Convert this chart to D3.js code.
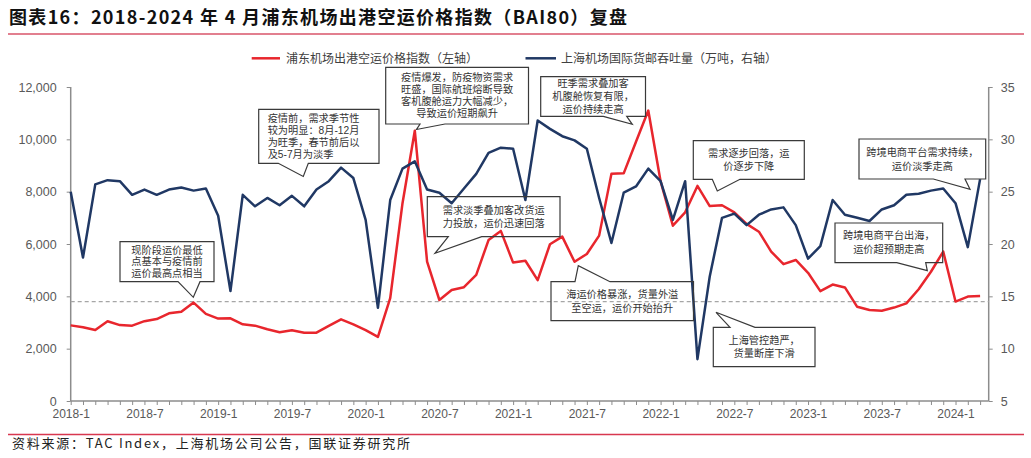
<!DOCTYPE html>
<html><head><meta charset="utf-8">
<script src="https://cdn.jsdelivr.net/npm/d3@7"></script>
<style>body{margin:0;background:#fff}svg{display:block}</style>
</head><body>
<svg id="c" width="1031" height="458"></svg>
<script>
// ---------- data ----------
const months = [
 "2018-1","2018-2","2018-3","2018-4","2018-5","2018-6","2018-7","2018-8","2018-9","2018-10","2018-11","2018-12",
 "2019-1","2019-2","2019-3","2019-4","2019-5","2019-6","2019-7","2019-8","2019-9","2019-10","2019-11","2019-12",
 "2020-1","2020-2","2020-3","2020-4","2020-5","2020-6","2020-7","2020-8","2020-9","2020-10","2020-11","2020-12",
 "2021-1","2021-2","2021-3","2021-4","2021-5","2021-6","2021-7","2021-8","2021-9","2021-10","2021-11","2021-12",
 "2022-1","2022-2","2022-3","2022-4","2022-5","2022-6","2022-7","2022-8","2022-9","2022-10","2022-11","2022-12",
 "2023-1","2023-2","2023-3","2023-4","2023-5","2023-6","2023-7","2023-8","2023-9","2023-10","2023-11","2023-12",
 "2024-1","2024-2","2024-3"];
// 浦东机场出港空运价格指数 (BAI80), left axis
const baiIndex = [
 2890,2820,2710,3050,2900,2880,3050,3130,3350,3410,3760,3330,
 3150,3160,2930,2880,2740,2630,2700,2610,2610,2870,3120,2930,
 2710,2450,3930,7560,10330,5330,3860,4240,4350,4820,6150,6500,
 5290,5360,4620,5990,6280,5320,5620,6320,8680,8700,9910,11100,
 8400,6700,7210,8220,7450,7480,7210,6770,6470,5710,5230,5390,
 4900,4200,4450,4340,3600,3480,3450,3570,3730,4270,4940,5710,
 3800,3990,4010];
// 上海机场国际货邮吞吐量 (万吨), right axis
const pvgCargo = [
 25.0,18.7,25.7,26.1,26.0,24.7,25.2,24.7,25.2,25.4,25.1,25.3,
 22.7,15.5,24.7,23.6,24.4,23.7,24.6,23.6,25.2,26.0,27.3,26.3,
 22.3,13.9,24.2,27.2,27.9,25.2,24.9,23.9,25.3,26.7,28.7,29.2,
 29.1,24.2,31.8,31.0,30.3,29.9,29.1,24.4,20.1,24.9,25.5,27.2,
 26.0,22.3,26.0,9.0,16.9,22.5,22.9,21.8,22.8,23.3,23.5,21.8,
 18.6,19.8,24.2,22.8,22.5,22.2,23.3,23.7,24.7,24.8,25.1,25.3,
 23.9,19.7,26.2];
const leftTicks = [0,2000,4000,6000,8000,10000,12000];
const rightTicks = [5,10,15,20,25,30,35];
const xTickLabels = ["2018-1","2018-7","2019-1","2019-7","2020-1","2020-7","2021-1","2021-7","2022-1","2022-7","2023-1","2023-7","2024-1"];
const refLevel = 3800;
const seriesNames = ["浦东机场出港空运价格指数（左轴）","上海机场国际货邮吞吐量（万吨，右轴）"];
const titleText = "图表16：2018-2024 年 4 月浦东机场出港空运价格指数（BAI80）复盘";
const sourceText = "资料来源：TAC Index，上海机场公司公告，国联证券研究所";

// callout annotations (text + layout)
const notes = [
 {lines:["现阶段运价最低","点基本与疫情前","运价最高点相当"], box:[120,241.7,214,281.7], edge:"bottom", base:[178,200], tip:[193.3,297.3], lh:11.6},
 {lines:["疫情前，需求季节性","较为明显：8月-12月","为旺季，春节前后以","及5-7月为淡季"], box:[258.7,109.3,379,163.3], edge:"bottom", base:[278.3,308.3], tip:[303.3,176.5], lh:12, align:"left"},
 {lines:["疫情爆发，防疫物资需求","旺盛，国际航班熔断导致","客机腹舱运力大幅减少，","导致运价短期飙升"], box:[385.7,67.3,528.5,124], edge:"bottom", base:[420,445], tip:[416.5,129.5], lh:12},
 {lines:["需求淡季叠加客改货运","力投放，运价迅速回落"], box:[427.3,196.7,560,236.7], edge:"bottom", base:[448.3,481.7], tip:[435,253.3], lh:13.3},
 {lines:["旺季需求叠加客","机腹舱恢复有限，","运价持续走高"], box:[540.7,76.7,645.5,116.3], edge:"bottom", base:[603.3,626.7], tip:[632.3,124.3], lh:12.8},
 {lines:["需求逐步回落，运","价逐步下降"], box:[693.3,140.7,804.3,179.3], edge:"bottom", base:[712.3,740], tip:[717.3,191], lh:12.5},
 {lines:["海运价格暴涨，货量外溢","至空运，运价开始抬升"], box:[551,281.7,693.5,320.7], edge:"top", base:[575,610], tip:[578.3,265.7], lh:14},
 {lines:["上海管控趋严，","货量断崖下滑"], box:[713.3,327.3,815,366.7], edge:"top", base:[730,755], tip:[716,312.3], lh:13.5},
 {lines:["跨境电商平台出海，","运价超预期走高"], box:[835,223,942.7,262.7], edge:"bottom", base:[896.7,925.7], tip:[927.3,270.7], lh:14},
 {lines:["跨境电商平台需求持续，","运价淡季走高"], box:[859,139,985.7,179], edge:"bottom", base:[933.3,965], tip:[970,189.3], lh:14}
];

// ---------- drawing ----------
const svg = d3.select("#c");
const CJK = "'Noto Sans CJK SC','Noto Sans',sans-serif";
const NOTE = "'Liberation Sans','Noto Sans CJK SC',sans-serif";
const LAT = "'Liberation Sans',Arial,sans-serif";
const RED = "#e8262d", BLUE = "#203864", AX = "#8c8c8c", TXT = "#595959";

const x = d3.scaleLinear().domain([0, 74.7]).range([70.7, 988.7]);
const yL = d3.scaleLinear().domain([0, 12000]).range([401, 87]);
const yR = d3.scaleLinear().domain([5, 35]).range([401, 87]);

// title
svg.append("text").attr("x", 9).attr("y", 24).attr("font-family", CJK).attr("font-weight", "bold")
  .attr("font-size", 18).attr("fill", "#111").attr("textLength", 618).attr("lengthAdjust", "spacing").text(titleText);
svg.append("line").attr("x1", 8).attr("x2", 1024).attr("y1", 34).attr("y2", 34).attr("stroke", "#d9546a").attr("stroke-width", 1.5);

// footer
svg.append("line").attr("x1", 8).attr("x2", 1024).attr("y1", 434.5).attr("y2", 434.5).attr("stroke", "#d8374f").attr("stroke-width", 1.5);
svg.append("text").attr("x", 12).attr("y", 448).attr("font-family", CJK).attr("font-size", 13)
  .attr("fill", "#222").attr("textLength", 398).attr("lengthAdjust", "spacing").text(sourceText);

// legend
const lg = svg.append("g").attr("font-family", CJK).attr("font-size", 12).attr("fill", "#404040");
lg.append("line").attr("x1", 251.7).attr("x2", 280).attr("y1", 58.3).attr("y2", 58.3).attr("stroke", RED).attr("stroke-width", 2.5);
lg.append("text").attr("x", 286).attr("y", 58.3).attr("dy", "0.35em").text(seriesNames[0]);
lg.append("line").attr("x1", 525.5).attr("x2", 556).attr("y1", 58.3).attr("y2", 58.3).attr("stroke", BLUE).attr("stroke-width", 2.5);
lg.append("text").attr("x", 561).attr("y", 58.3).attr("dy", "0.35em").text(seriesNames[1]);

// left axis
const gL = svg.append("g").attr("transform", `translate(${x(0)},0)`)
  .call(d3.axisLeft(yL).tickValues(leftTicks).tickSize(4).tickPadding(10).tickFormat(d3.format(",")));
// right axis
const gR = svg.append("g").attr("transform", `translate(${x.range()[1]},0)`)
  .call(d3.axisRight(yR).tickValues(rightTicks).tickSize(4).tickPadding(8));
// bottom axis
const gB = svg.append("g").attr("transform", `translate(0,${yL(0)})`)
  .call(d3.axisBottom(x).tickValues(d3.range(months.length)).tickSize(4).tickPadding(4)
    .tickFormat((d) => xTickLabels.includes(months[d]) ? months[d] : ""));
[gL, gR, gB].forEach(g => {
  g.select(".domain").attr("stroke", AX).attr("stroke-width", 1.5);
  g.selectAll(".tick line").attr("stroke", AX).attr("stroke-width", 1);
  g.selectAll("text").attr("fill", TXT).attr("font-family", LAT).attr("font-size", 12.5);
});
gB.select(".domain").attr("d", `M${x.range()[0]},0H${x.range()[1]}`);
gL.select(".domain").attr("d", `M0,${yL.range()[1]}V${yL.range()[0]}`);
gR.select(".domain").attr("d", `M0,${yR.range()[1]}V${yR.range()[0]}`);
gB.selectAll("text").attr("font-size", 12);

// reference dashed line
svg.append("line").attr("x1", x.range()[0]).attr("x2", x.range()[1]).attr("y1", yL(refLevel)).attr("y2", yL(refLevel))
  .attr("stroke", "#a6a6a6").attr("stroke-width", 1.3).attr("stroke-dasharray", "4,3");

// series
svg.append("path").datum(baiIndex).attr("fill", "none").attr("stroke", RED).attr("stroke-width", 2.5)
  .attr("stroke-linejoin", "round").attr("d", d3.line().x((d, i) => x(i)).y(d => yL(d)));
svg.append("path").datum(pvgCargo).attr("fill", "none").attr("stroke", BLUE).attr("stroke-width", 2.5)
  .attr("stroke-linejoin", "round").attr("d", d3.line().x((d, i) => x(i)).y(d => yR(d)));

// callouts
const ng = svg.append("g");
notes.forEach(n => {
  const [x0, y0, x1, y1] = n.box;
  const [b1, b2] = n.base;
  const [tx, ty] = n.tip;
  let p;
  if (n.edge === "bottom") p = `M${x0},${y0}H${x1}V${y1}H${b2}L${tx},${ty}L${b1},${y1}H${x0}Z`;
  else p = `M${x0},${y0}H${b1}L${tx},${ty}L${b2},${y0}H${x1}V${y1}H${x0}Z`;
  ng.append("path").attr("d", p).attr("fill", "none").attr("stroke", "#3a3a3a").attr("stroke-width", 1.2);
  const cy = (y0 + y1) / 2;
  const start = cy - (n.lines.length - 1) * n.lh / 2;
  const left = n.align === "left";
  const tx0 = left ? x0 + 9 : (x0 + x1) / 2;
  n.lines.forEach((s, k) => {
    ng.append("text").attr("font-family", NOTE).attr("font-size", 10.2).attr("fill", "#333")
      .attr("text-anchor", left ? "start" : "middle")
      .attr("x", tx0).attr("y", start + k * n.lh).attr("dy", "0.35em").text(s);
  });
});
</script>
</body></html>
